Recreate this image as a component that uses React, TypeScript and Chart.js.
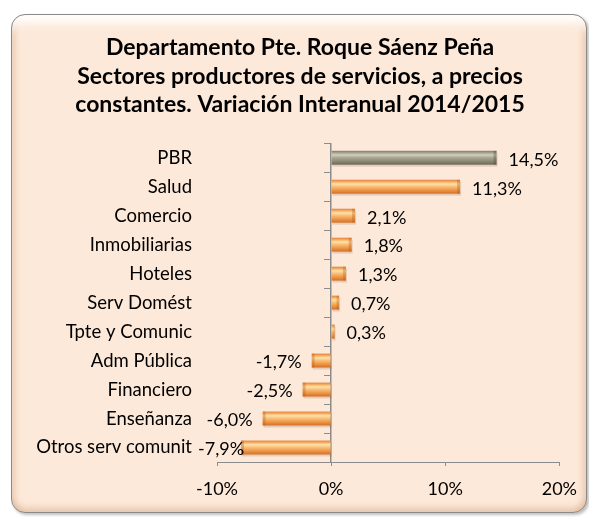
import React, { useEffect, useRef } from "react";
import { Chart, registerables } from "chart.js";

Chart.register(...registerables);

const categories = [
  "PBR",
  "Salud",
  "Comercio",
  "Inmobiliarias",
  "Hoteles",
  "Serv Domést",
  "Tpte y Comunic",
  "Adm Pública",
  "Financiero",
  "Enseñanza",
  "Otros serv comunit",
];
const values = [14.5, 11.3, 2.1, 1.8, 1.3, 0.7, 0.3, -1.7, -2.5, -6.0, -7.9];
const titleLines = [
  "Departamento Pte. Roque Sáenz Peña",
  "Sectores productores de servicios, a precios",
  "constantes. Variación Interanual 2014/2015",
];
const xMin = -10;
const xMax = 20;
const xStep = 10;

const FONT = "Lato, 'Open Sans', sans-serif";

const orangeStops: [number, string][] = [
  [0, "#e3803a"],
  [0.12, "#f4a55c"],
  [0.3, "#fde3a6"],
  [0.5, "#f8bd76"],
  [0.75, "#ee9546"],
  [1, "#d36f26"],
];
const grayStops: [number, string][] = [
  [0, "#7f7d68"],
  [0.12, "#a09e88"],
  [0.3, "#d2d0bd"],
  [0.5, "#a8a690"],
  [0.75, "#8c8a74"],
  [1, "#686753"],
];

const fmt = (v: number) => v.toFixed(1).replace(".", ",") + "%";

const barStylePlugin = {
  id: "barStyle",
  afterDatasetsDraw(chart: any) {
    const ctx = chart.ctx;
    const meta = chart.getDatasetMeta(0);
    ctx.save();
    meta.data.forEach((el: any, i: number) => {
      const { x, y, base, height } = el.getProps(["x", "y", "base", "height"], true);
      const top = y - height / 2;
      const left = Math.min(x, base);
      const w = Math.abs(x - base);
      const stops = i === 0 ? grayStops : orangeStops;
      const g = ctx.createLinearGradient(0, top, 0, top + height);
      stops.forEach(([p, c]) => g.addColorStop(p, c));
      ctx.fillStyle = "rgba(120,80,40,0.18)";
      ctx.fillRect(left + 1, top + 2, w, height);
      ctx.fillStyle = g;
      ctx.fillRect(left, top, w, height);
      const capW = Math.min(3, w / 3);
      const capX = x >= base ? x - capW : x;
      ctx.fillStyle = i === 0 ? "rgba(70,70,55,0.35)" : "rgba(190,90,20,0.35)";
      ctx.fillRect(capX, top, capW, height);
    });
    ctx.restore();
  },
};

const valueLabelPlugin = {
  id: "valueLabels",
  afterDatasetsDraw(chart: any) {
    const ctx = chart.ctx;
    const meta = chart.getDatasetMeta(0);
    const data = chart.data.datasets[0].data as number[];
    const leftLimit = chart.chartArea.left - 19;
    ctx.save();
    ctx.font = `18px ${FONT}`;
    ctx.fillStyle = "#000";
    ctx.textBaseline = "middle";
    meta.data.forEach((el: any, i: number) => {
      const v = data[i];
      const { x, y } = el.getProps(["x", "y"], true);
      const t = fmt(v);
      if (v >= 0) {
        ctx.textAlign = "left";
        ctx.fillText(t, x + 12, y + 2);
      } else {
        ctx.textAlign = "right";
        const w = ctx.measureText(t).width;
        ctx.fillText(t, Math.max(x - 10, leftLimit + w), y + 2);
      }
    });
    ctx.restore();
  },
};

export default function App() {
  const ref = useRef<HTMLCanvasElement | null>(null);

  useEffect(() => {
    if (!ref.current) return;
    const chart = new Chart(ref.current, {
      type: "bar",
      data: {
        labels: categories,
        datasets: [
          {
            data: values,
            backgroundColor: "rgba(0,0,0,0)",
            borderWidth: 0,
            barPercentage: 0.48,
            categoryPercentage: 1,
          },
        ],
      },
      options: {
        indexAxis: "y",
        responsive: false,
        animation: false,
        events: [],
        layout: { padding: { left: 11, right: 0, top: 0, bottom: 0 } },
        plugins: {
          legend: { display: false },
          tooltip: { enabled: false },
          title: {
            display: true,
            text: titleLines,
            color: "#000",
            font: { family: FONT, size: 23, weight: "bold", lineHeight: 1.25 },
            padding: { top: 33, bottom: 24 },
          },
        },
        scales: {
          x: {
            type: "linear",
            min: xMin,
            max: xMax,
            afterFit: (s: any) => {
              s.height = 55;
            },
            ticks: {
              stepSize: xStep,
              color: "#000",
              font: { family: FONT, size: 18 },
              padding: 12,
              callback: (v: any) => v + "%",
            },
            grid: {
              drawOnChartArea: false,
              tickLength: 4,
              color: "#8c8c8c",
            },
            border: { display: true, color: "#8c8c8c", width: 1 },
          },
          y: {
            type: "category",
            position: "left",
            afterFit: (s: any) => {
              s.width = 206;
            },
            grid: { display: false, drawTicks: false },
            border: { display: false },
            ticks: {
              color: "#000",
              font: { family: FONT, size: 18.5 },
              padding: 25,
            },
          },
          y0: {
            type: "category",
            position: { x: 0 } as any,
            offset: true,
            grid: {
              offset: true,
              drawOnChartArea: false,
              tickLength: 6,
              color: "#8c8c8c",
            },
            border: { display: true, color: "#8c8c8c", width: 1.5 },
            ticks: { display: false },
          },
          yR: {
            type: "category",
            position: "right",
            afterFit: (s: any) => {
              s.width = 25;
            },
            grid: { display: false, drawTicks: false },
            border: { display: false },
            ticks: { display: false },
          },
        },
      },
      plugins: [barStylePlugin, valueLabelPlugin],
    });
    return () => chart.destroy();
  }, []);

  return (
    <>
      <div
        style={{
          position: "absolute",
          left: 11,
          top: 14,
          width: 574,
          height: 497,
          border: "1px solid #8a8a8a",
          borderRadius: 14,
          background: "#fde9d9",
          boxShadow:
            "2px 2px 3px rgba(0,0,0,0.25), inset 0 14px 10px -6px rgba(255,255,255,0.95), inset 6px 0 6px -3px rgba(200,150,110,0.35), inset -6px 0 6px -3px rgba(200,150,110,0.35), inset 0 -8px 6px -3px rgba(200,150,110,0.3)",
        }}
      />
      <canvas
        ref={ref}
        width={589}
        height={517}
        style={{ position: "absolute", left: 0, top: 0, width: 589, height: 517 }}
      />
    </>
  );
}
